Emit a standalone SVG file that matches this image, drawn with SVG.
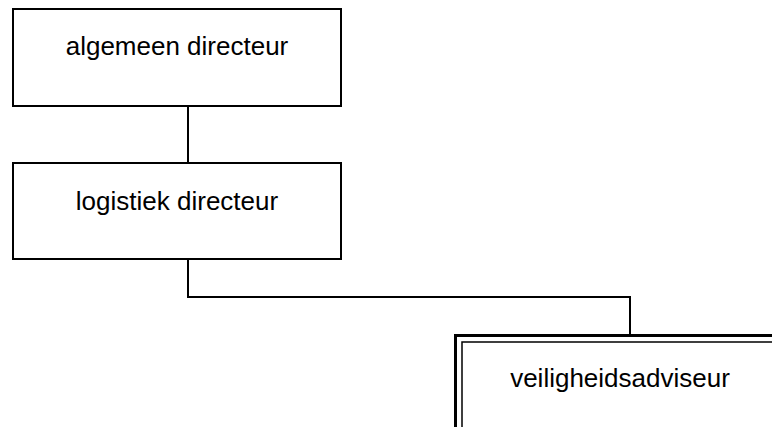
<svg xmlns="http://www.w3.org/2000/svg" width="772" height="427" viewBox="0 0 772 427">
  <style>
    .box { fill: #ffffff; stroke: #000000; stroke-width: 2; }
    .outer { fill: #ffffff; stroke: #000000; stroke-width: 3; }
    .inner { fill: none; stroke: #000000; stroke-width: 1.5; }
    .label { font-family: "Liberation Sans", Arial, sans-serif; font-size: 26px; fill: #000000; text-anchor: middle; }
    .wire { fill: none; stroke: #000000; stroke-width: 2; }
  </style>
  <rect width="772" height="427" fill="#ffffff"/>

  <!-- connectors -->
  <g id="connectors">
    <path class="wire" d="M188,106 V163"/>
    <path class="wire" d="M188,259 V297 H630 V335"/>
  </g>

  <g id="node-algemeen-directeur">
    <rect class="box" x="13" y="9" width="328" height="97"/>
    <text class="label" x="177" y="55">algemeen directeur</text>
  </g>

  <g id="node-logistiek-directeur">
    <rect class="box" x="13" y="163" width="328" height="96"/>
    <text class="label" x="177" y="210">logistiek directeur</text>
  </g>

  <g id="node-veiligheidsadviseur">
    <rect class="outer" x="455.5" y="335.5" width="340" height="140"/>
    <rect class="inner" x="462" y="342" width="330" height="130"/>
    <text class="label" x="620" y="387">veiligheidsadviseur</text>
  </g>
</svg>
